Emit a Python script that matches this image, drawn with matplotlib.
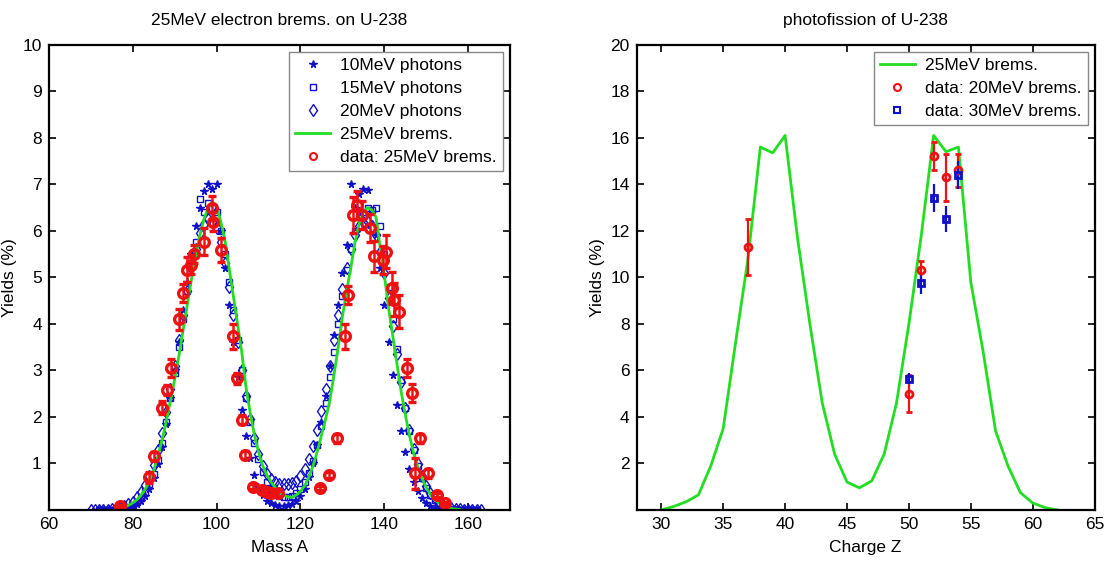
import numpy as np
import matplotlib
matplotlib.use('Agg')
import matplotlib.pyplot as plt

plt.rcParams['font.family'] = ['Liberation Sans', 'DejaVu Sans']
plt.rcParams['font.size'] = 12.5

# ---- left panel: mass yields ----
mass_10 = np.arange(72, 163)
y_10 = [0.0, 0.0, 0.0, 0.01, 0.01, 0.02, 0.03, 0.05, 0.08, 0.13,
        0.2, 0.3, 0.45, 0.68, 0.98, 1.35, 1.85, 2.4, 3.0, 3.6,
        4.3, 4.9, 5.5, 6.1, 6.5, 6.85, 7.0, 6.9, 7.0, 6.0,
        5.2, 4.4, 3.6, 2.85, 2.15, 1.6, 1.12, 0.76, 0.5, 0.32,
        0.2, 0.14, 0.1, 0.08, 0.08, 0.1, 0.13, 0.2, 0.3, 0.45,
        0.7, 1.0, 1.4, 1.9, 2.45, 3.1, 3.75, 4.4, 5.1, 5.7,
        7.0, 6.5, 6.8, 6.9, 6.88, 6.4, 5.9, 5.2, 4.4, 3.6,
        2.9, 2.25, 1.7, 1.25, 0.88, 0.6, 0.4, 0.25, 0.15, 0.09,
        0.05, 0.03, 0.01, 0.01, 0.0, 0.0, 0.0, 0.0, 0.0, 0.0,
        0.0]

mass_15 = np.arange(72, 163)
y_15 = [0.0, 0.0, 0.0, 0.0, 0.01, 0.02, 0.04, 0.07, 0.11, 0.17,
        0.26, 0.38, 0.55, 0.78, 1.08, 1.45, 1.9, 2.4, 2.95, 3.5,
        4.1, 4.7, 5.25, 5.75, 6.68, 6.4, 6.6, 6.5, 6.4, 6.0,
        5.5, 4.9, 4.3, 3.65, 3.0, 2.4, 1.9, 1.45, 1.1, 0.82,
        0.6, 0.45, 0.35, 0.3, 0.27, 0.27, 0.3, 0.36, 0.45, 0.6,
        0.8, 1.05, 1.4, 1.8, 2.3, 2.85, 3.4, 4.0, 4.6, 5.15,
        5.6, 6.0, 6.3, 6.4, 6.5, 6.45, 6.5, 6.1, 5.5, 4.8,
        4.1, 3.45, 2.8, 2.2, 1.7, 1.28, 0.95, 0.68, 0.48, 0.32,
        0.21, 0.14, 0.09, 0.05, 0.03, 0.02, 0.01, 0.0, 0.0, 0.0,
        0.0]

mass_20 = np.arange(70, 164)
y_20 = [0.0, 0.0, 0.0, 0.01, 0.01, 0.02, 0.03, 0.05, 0.08, 0.12,
        0.18, 0.27, 0.38, 0.53, 0.72, 0.97, 1.28, 1.65, 2.1, 2.6,
        3.1, 3.65, 4.2, 4.7, 5.2, 5.6, 5.95, 6.15, 6.25, 6.2,
        6.05, 5.75, 5.3, 4.8, 4.2, 3.6, 3.0, 2.45, 1.95, 1.55,
        1.2, 0.95, 0.78, 0.66, 0.6, 0.56, 0.55, 0.55, 0.57, 0.62,
        0.72, 0.88, 1.1, 1.38, 1.72, 2.12, 2.6, 3.1, 3.65, 4.2,
        4.75, 5.2, 5.6, 5.9, 6.1, 6.2, 6.2, 6.1, 5.9, 5.55,
        5.1, 4.55, 3.95, 3.35, 2.75, 2.2, 1.72, 1.32, 0.98, 0.72,
        0.52, 0.36, 0.25, 0.17, 0.11, 0.07, 0.04, 0.03, 0.02, 0.01,
        0.01, 0.0, 0.0, 0.0]

mass_calc = np.arange(77, 159)
y_calc = [0.03, 0.06, 0.1, 0.15, 0.22, 0.32, 0.45, 0.62, 0.85, 1.15,
          1.5, 1.9, 2.35, 2.8, 3.3, 3.85, 4.4, 4.95, 5.45, 5.9,
          6.25, 6.5, 6.62, 6.55, 6.2, 5.8, 5.2, 4.6, 4.0, 3.4,
          2.65, 2.1, 1.62, 1.25, 0.95, 0.75, 0.6, 0.48, 0.38, 0.32,
          0.28, 0.27, 0.32, 0.4, 0.52, 0.7, 0.95, 1.25, 1.6, 1.95,
          2.35, 2.9, 3.5, 4.15, 4.7, 5.2, 5.75, 6.15, 6.4, 6.5,
          6.45, 6.3, 5.65, 5.05, 4.35, 3.75, 3.15, 2.55, 2.05, 1.6,
          1.22, 0.92, 0.68, 0.48, 0.33, 0.22, 0.15, 0.1, 0.06, 0.03,
          0.02, 0.01]

mass_data = [77, 84, 85.1, 87.1, 88.1, 89.1, 91.1, 91.9, 93.0, 93.9,
             94.7, 97.0, 98.8, 99.2, 101.1, 104.0, 104.8, 106.0, 106.8, 108.8,
             110.8, 112.0, 113.1, 114.7, 124.7, 126.7, 128.7, 130.6, 131.4, 132.6,
             133.6, 134.6, 136.6, 137.6, 139.8, 140.4, 141.8, 142.4, 143.4, 145.5,
             146.6, 148.5, 147.3, 150.5, 152.5, 154.5]
y_data = [0.08, 0.7, 1.15, 2.2, 2.58, 3.05, 4.1, 4.66, 5.16, 5.27,
          5.5, 5.77, 6.49, 6.2, 5.59, 3.73, 2.83, 1.94, 1.18, 0.5,
          0.43, 0.39, 0.37, 0.36, 0.47, 0.75, 1.54, 3.73, 4.62, 6.34,
          6.56, 6.34, 6.06, 5.45, 5.38, 5.55, 4.77, 4.52, 4.26, 3.05,
          2.51, 1.54, 0.79, 0.79, 0.32, 0.14]
err_data = [0.03, 0.12, 0.1, 0.14, 0.1, 0.2, 0.23, 0.2, 0.27, 0.2,
            0.2, 0.28, 0.25, 0.2, 0.25, 0.27, 0.12, 0.1, 0.08, 0.05,
            0.05, 0.05, 0.05, 0.05, 0.04, 0.06, 0.1, 0.27, 0.2, 0.38,
            0.3, 0.3, 0.3, 0.33, 0.3, 0.35, 0.35, 0.35, 0.35, 0.2,
            0.2, 0.1, 0.33, 0.1, 0.05, 0.04]

# ---- right panel: charge yields ----
z_calc = np.arange(30, 63)
yz_calc = [0.0, 0.15, 0.35, 0.65, 1.9, 3.5, 7.2, 10.8, 15.6, 15.35,
           16.1, 11.7, 8.0, 4.6, 2.4, 1.2, 0.95, 1.25, 2.4, 4.6,
           8.0, 11.8, 16.1, 15.4, 15.6, 9.8, 6.8, 3.4, 1.9, 0.75,
           0.3, 0.1, 0.0]

z_20 = [37, 50, 51, 52, 53, 54]
yz_20 = [11.3, 5.0, 10.3, 15.2, 14.3, 14.6]
ez_20 = [1.2, 0.8, 0.4, 0.6, 1.0, 0.7]

z_30 = [50, 51, 52, 53, 54]
yz_30 = [5.65, 9.75, 13.4, 12.5, 14.4]
ez_30 = [0.25, 0.45, 0.6, 0.55, 0.6]

blue = '#1010c8'
green = '#22dd22'
red = '#ee1111'

fig = plt.figure(figsize=(11.09, 5.66), dpi=100)
ax1 = fig.add_axes([0.044, 0.099, 0.416, 0.822])
ax2 = fig.add_axes([0.574, 0.099, 0.413, 0.822])

ax1.plot(mass_10, y_10, ls='none', marker='*', ms=5.5, color=blue, label='10MeV photons')
ax1.plot(mass_15, y_15, ls='none', marker='s', ms=5, mfc='none', mec=blue, mew=1,
         label='15MeV photons')
ax1.plot(mass_20, y_20, ls='none', marker='d', ms=6, mfc='none', mec=blue, mew=1,
         label='20MeV photons')
ax1.plot(mass_calc, y_calc, color=green, lw=2, label='25MeV brems.')
ax1.errorbar(mass_data, y_data, yerr=err_data, fmt='o', ms=7, mfc='none', mec=red,
             mew=2.4, ecolor=red, elinewidth=1.8, capsize=3, capthick=1.8)
ax1.plot([], [], ls='none', marker='o', ms=5, mfc='none', mec=red, mew=1.5,
         label='data: 25MeV brems.')

ax1.set_xlim(60, 170)
ax1.set_ylim(0, 10)
ax1.set_xticks([60, 80, 100, 120, 140, 160])
ax1.set_yticks(range(1, 11))
ax1.set_xlabel('Mass A', labelpad=6)
ax1.set_ylabel('Yields (%)')
ax1.set_title('25MeV electron brems. on U-238', fontsize=12.5, pad=14)

ax2.plot(z_calc, yz_calc, color=green, lw=2, label='25MeV brems.')
ax2.errorbar(z_20, yz_20, yerr=ez_20, fmt='o', ms=5, mfc='none', mec=red, mew=2,
             ecolor=red, elinewidth=1.6, capsize=2.5, capthick=1.6)
ax2.errorbar(z_30, yz_30, yerr=ez_30, fmt='s', ms=5, mfc='none', mec=blue, mew=2,
             ecolor=blue, elinewidth=1.6, capsize=0)
ax2.plot([], [], ls='none', marker='o', ms=5, mfc='none', mec=red, mew=1.5,
         label='data: 20MeV brems.')
ax2.plot([], [], ls='none', marker='s', ms=5, mfc='none', mec=blue, mew=1.5,
         label='data: 30MeV brems.')
ax2.set_xlim(28, 65)
ax2.set_ylim(0, 20)
ax2.set_xticks(range(30, 66, 5))
ax2.set_yticks(range(2, 21, 2))
ax2.set_xlabel('Charge Z', labelpad=6)
ax2.set_ylabel('Yields (%)')
ax2.set_title('photofission of U-238', fontsize=12.5, pad=14)

for ax in (ax1, ax2):
    ax.tick_params(direction='in', top=True, right=True, length=5, width=1.2,
                   labelsize=12.5, pad=5)
    ax.yaxis.set_label_coords(-0.068, 0.5)
    for s in ax.spines.values():
        s.set_linewidth(1.6)
    leg = ax.legend(loc='upper right', fontsize=12.5, fancybox=False, framealpha=1,
                    edgecolor='#888888', borderaxespad=0.4, handlelength=2.0,
                    labelspacing=0.45, handletextpad=0.6, borderpad=0.35)
    leg.get_frame().set_linewidth(1.0)

fig.savefig('out.png', dpi=100)
